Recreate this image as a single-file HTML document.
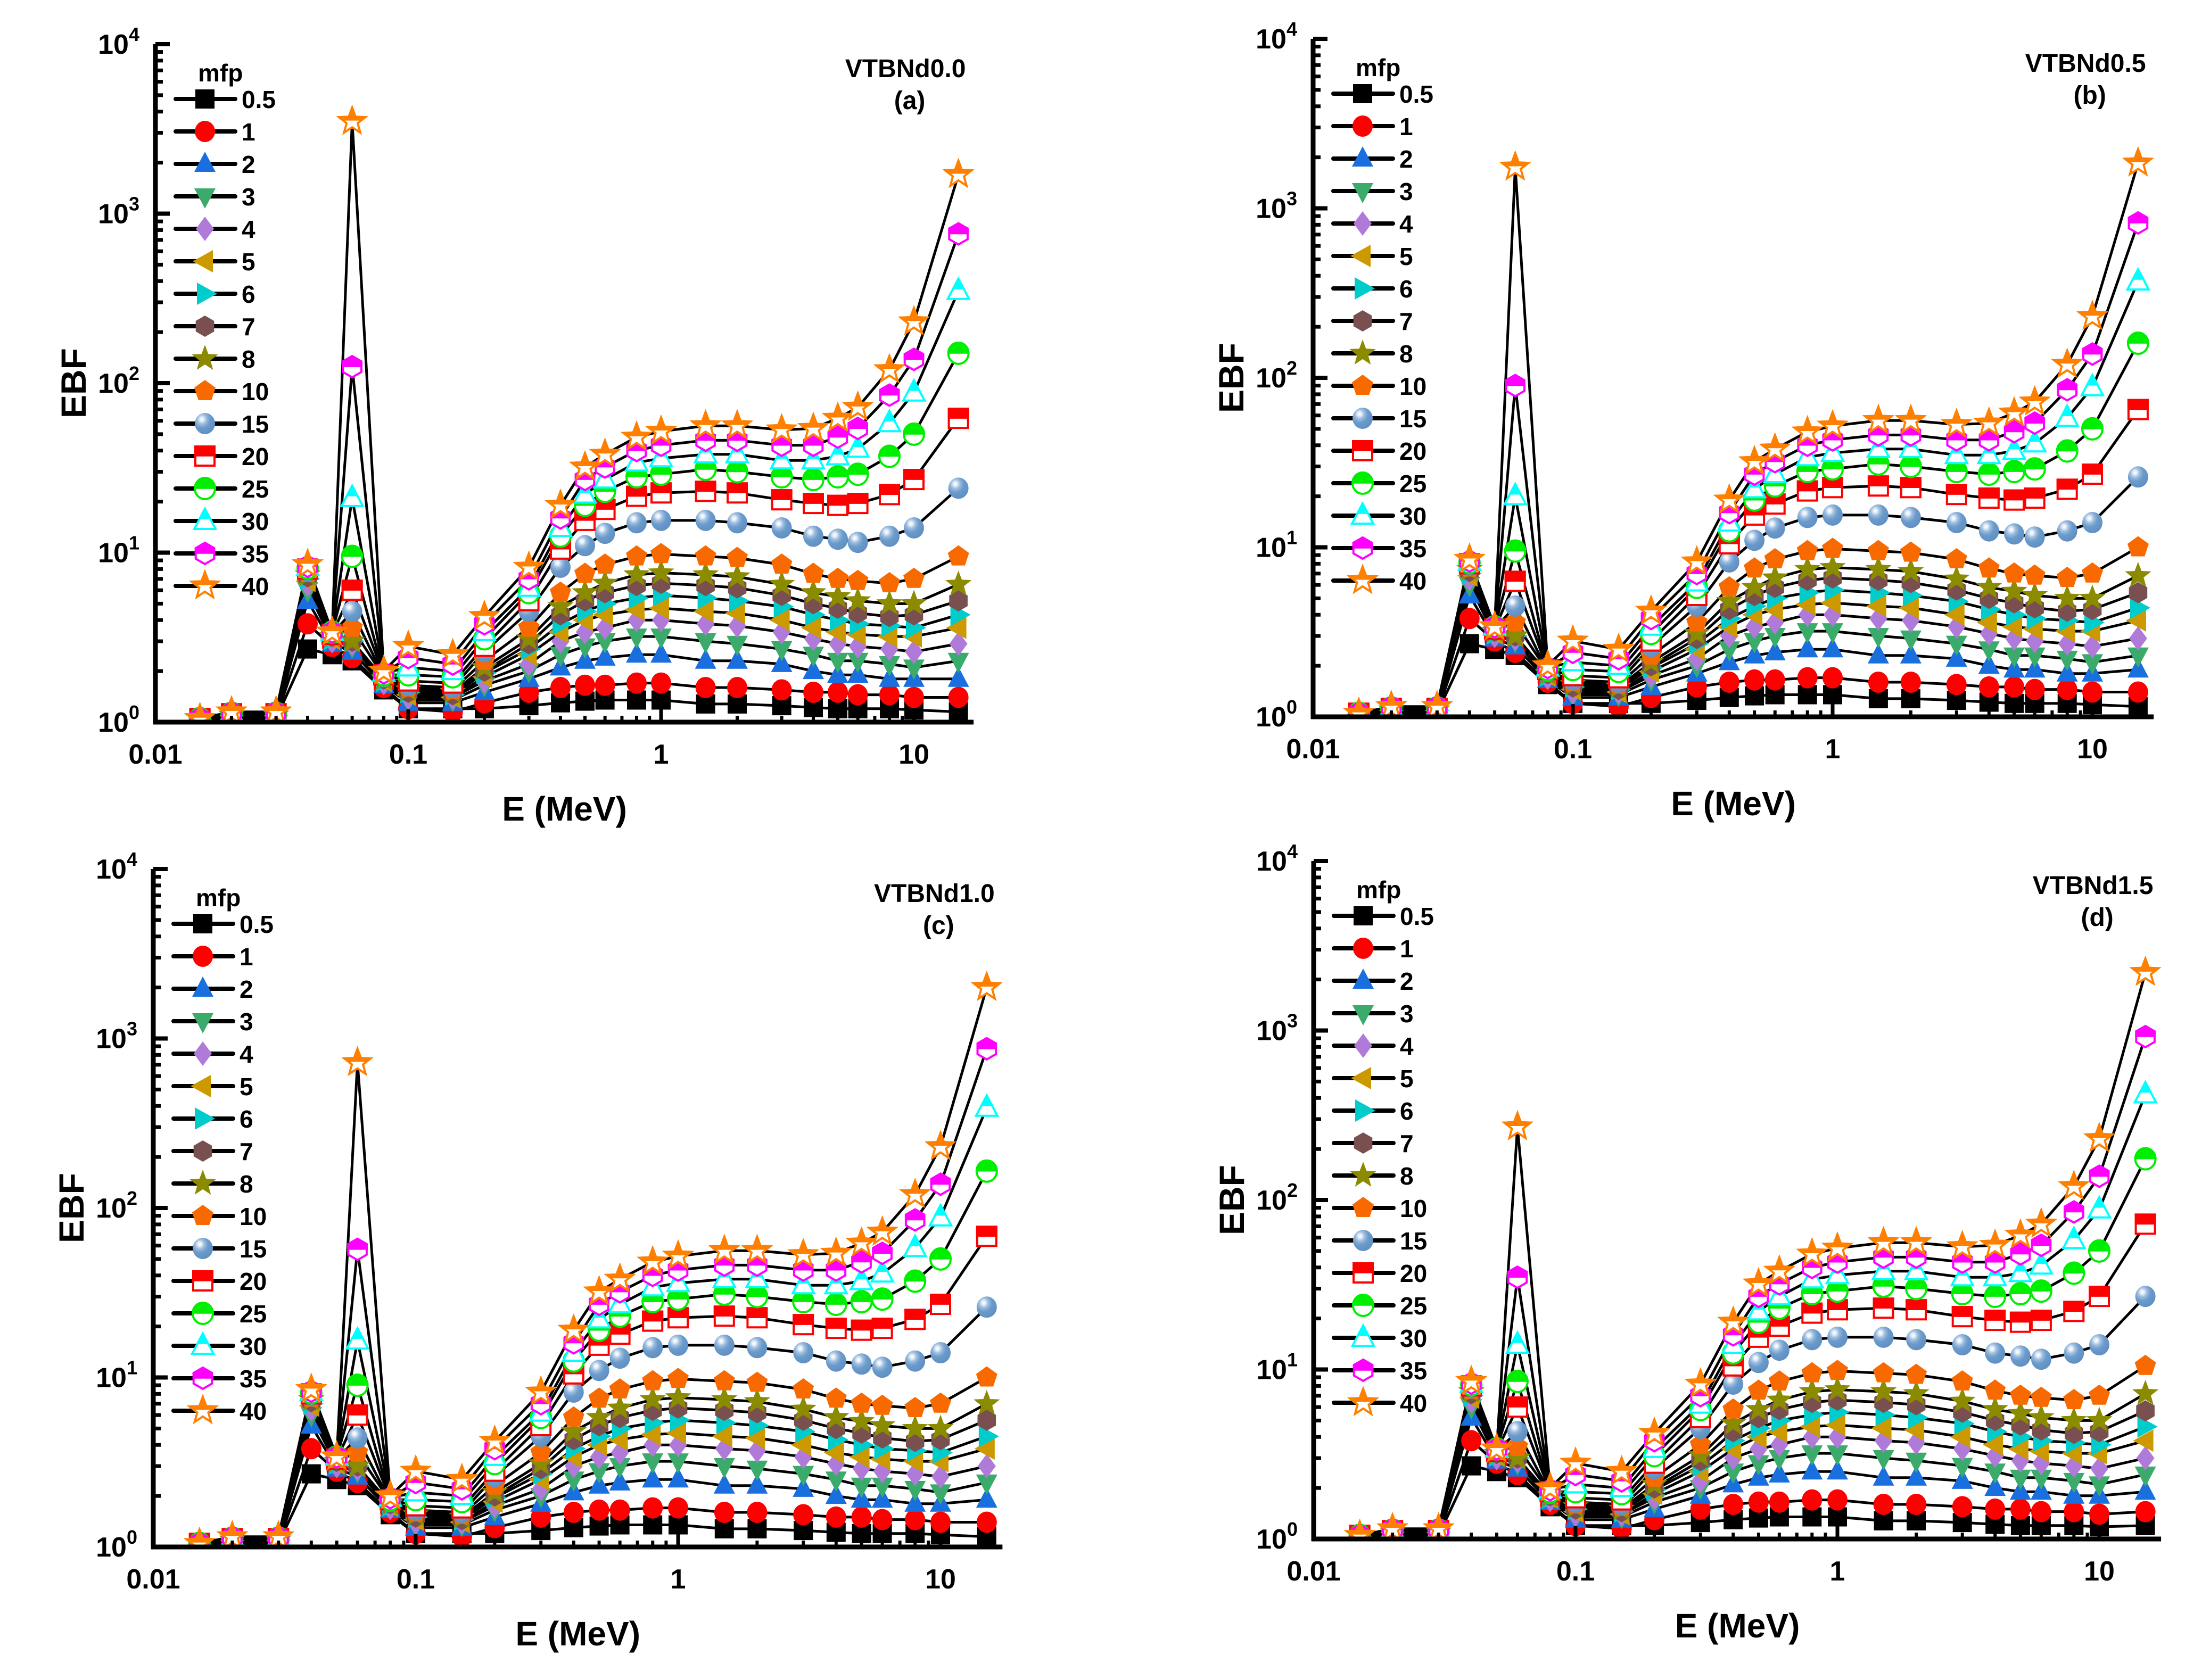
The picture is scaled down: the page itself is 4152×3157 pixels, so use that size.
<!DOCTYPE html>
<html><head><meta charset="utf-8"><style>
html,body{margin:0;padding:0;background:#fff;}
svg{display:block;font-family:"Liberation Sans",Arial,sans-serif;font-weight:bold;}
</style></head><body>
<svg id="fig" xmlns="http://www.w3.org/2000/svg" width="4152" height="3157" viewBox="0 0 4152 3157">
<defs>
<clipPath id="tophalf" clipPathUnits="objectBoundingBox"><rect x="-0.1" y="-0.1" width="1.2" height="0.62"/></clipPath>
<radialGradient id="sphere" cx="0.35" cy="0.3" r="0.75">
<stop offset="0" stop-color="#ffffff"/><stop offset="0.12" stop-color="#e8f0f8"/><stop offset="0.3" stop-color="#9dbde0"/><stop offset="0.55" stop-color="#6b9bcb"/><stop offset="1" stop-color="#5f8fc2"/></radialGradient>
</defs>
</svg>
<script>
// ---- data ----
const energies = [0.015,0.02,0.03,0.04,0.05,0.06,0.08,0.1,0.15,0.2,0.3,0.4,0.5,0.6,0.8,1,1.5,2,3,4,5,6,8,10,15];
const mfpLabels = ["0.5","1","2","3","4","5","6","7","8","10","15","20","25","30","35","40"];
const s0_5 = [1.02,1.05,1.05,2.7,2.5,2.3,1.55,1.2,1.2,1.2,1.25,1.3,1.33,1.35,1.35,1.35,1.28,1.28,1.25,1.22,1.2,1.2,1.2,1.18,1.15];
const s1 = [1.02,1.06,1.06,3.8,2.8,2.4,1.6,1.2,1.15,1.3,1.5,1.6,1.65,1.65,1.7,1.7,1.6,1.6,1.55,1.5,1.5,1.45,1.45,1.4,1.4];
const s2 = [1.03,1.07,1.07,5.2,2.9,2.6,1.65,1.3,1.3,1.5,1.8,2.1,2.3,2.4,2.5,2.5,2.3,2.3,2.2,2.0,1.9,1.9,1.8,1.8,1.8];
const s3 = [1.03,1.08,1.08,6.0,3.0,2.8,1.7,1.35,1.35,1.65,2.0,2.5,2.8,3.0,3.2,3.2,3.0,2.9,2.7,2.5,2.3,2.3,2.2,2.1,2.3];
const s4 = [1.03,1.08,1.08,6.5,3.0,2.9,1.7,1.4,1.4,1.75,2.2,3.0,3.4,3.6,4.0,4.0,3.8,3.7,3.4,3.1,2.9,2.8,2.7,2.6,2.9];
const s5 = [1.03,1.09,1.09,6.8,3.1,3.0,1.75,1.45,1.4,1.85,2.5,3.4,4.0,4.3,4.6,4.7,4.5,4.4,4.0,3.6,3.4,3.3,3.2,3.2,3.6];
const s6 = [1.04,1.09,1.09,7.0,3.1,3.0,1.75,1.5,1.45,1.95,2.7,3.8,4.5,5.0,5.4,5.6,5.4,5.2,4.8,4.3,4.0,3.8,3.7,3.6,4.3];
const s7 = [1.04,1.1,1.1,7.2,3.2,3.0,1.8,1.5,1.45,2.0,2.9,4.3,5.2,5.8,6.4,6.6,6.4,6.2,5.6,5.0,4.7,4.4,4.2,4.3,5.2];
const s8 = [1.04,1.1,1.1,7.4,3.2,3.0,1.8,1.55,1.5,2.1,3.1,4.8,5.8,6.6,7.4,7.6,7.4,7.2,6.5,5.8,5.5,5.2,5.0,5.0,6.5];
const s10 = [1.04,1.1,1.1,7.6,3.3,3.6,1.85,1.6,1.55,2.3,3.6,5.8,7.5,8.5,9.5,9.8,9.5,9.3,8.5,7.5,7.0,6.8,6.6,7.0,9.5];
const s15 = [1.05,1.12,1.12,7.8,3.3,4.5,1.85,1.65,1.6,2.6,4.5,8.2,11,13,15,15.5,15.5,15,14,12.5,12,11.5,12.5,14,24];
const s20 = [1.05,1.12,1.12,8.0,3.3,6,1.9,1.75,1.7,2.8,5.2,10.5,15.5,18,21.5,22.5,23,22.5,20.5,19.5,19,19.5,22,27,62];
const s25 = [1.05,1.13,1.13,8.1,3.4,9.5,1.9,1.9,1.85,3.1,5.8,12.5,19,23,28,29,31,30,28,27,28,29,37,50,150];
const s30 = [1.05,1.14,1.13,8.2,3.4,21,1.95,2.1,2.0,3.4,6.2,14,22,27,34,36,38,38,35,35,37,41,58,88,350];
const s35 = [1.05,1.14,1.14,8.3,3.4,125,1.95,2.4,2.2,3.8,7,16,27,32,40,43,46,46,43,43,48,54,85,138,760];
const s40 = [1.05,1.15,1.15,8.5,3.4,3500,2.0,2.8,2.5,4.2,8.2,19,32,38,48,52,56,56,53,54,62,72,120,230,1700];
const baseSeries = [s0_5,s1,s2,s3,s4,s5,s6,s7,s8,s10,s15,s20,s25,s30,s35,s40];
// per-panel values at E=0.06 MeV (peak) and at 15 MeV, one per mfp
const peakA = [2.3,2.4,2.6,2.8,2.9,3.0,3.0,3.0,3.0,3.6,4.5,6,9.5,21,125,3500];
const peakB = [2.3,2.4,2.6,2.8,2.9,3.0,3.0,3.0,3.0,3.6,4.5,6.3,9.5,20,90,1750];
const peakC = [2.3,2.4,2.6,2.8,2.9,3.0,3.0,3.0,3.0,3.6,4.4,6,9,16.5,57,720];
const peakD = [2.3,2.4,2.6,2.8,2.9,3.0,3.0,3.0,3.0,3.5,4.3,6,8.5,14,35,270];
const tailA = [1.15,1.4,1.8,2.3,2.9,3.6,4.3,5.2,6.5,9.5,24,62,150,350,760,1700];
const tailB = [1.15,1.4,1.9,2.3,2.9,3.7,4.4,5.4,6.8,10,26,65,160,370,820,1850];
const tailC = [1.15,1.4,1.9,2.4,3.0,3.8,4.5,5.6,7.0,10,26,68,165,390,870,2000];
const tailD = [1.2,1.45,1.9,2.4,3.0,3.8,4.6,5.7,7.2,10.5,27,72,175,420,920,2200];
const yTicks = [0,1,2,3,4];
const xTickVals = [0.01,0.1,1,10];
const xTickLabels = ["0.01","0.1","1","10"];

const panels = [
 {id:'a',x0:292,dec:475,y0:83,y1:1357,title:'VTBNd0.0',lab:'(a)',peak:peakA,tail:tailA},
 {id:'b',x0:2467,dec:488,y0:73,y1:1347,title:'VTBNd0.5',lab:'(b)',peak:peakB,tail:tailB},
 {id:'c',x0:288,dec:493,y0:1633,y1:2907,title:'VTBNd1.0',lab:'(c)',peak:peakC,tail:tailC},
 {id:'d',x0:2468,dec:492,y0:1618,y1:2892,title:'VTBNd1.5',lab:'(d)',peak:peakD,tail:tailD}
];
const styles = [
 {shape:'square',fill:'#000000'},{shape:'circle',fill:'#ff0000'},{shape:'tri-up',fill:'#1a6fdf'},
 {shape:'tri-down',fill:'#3aab6a'},{shape:'diamond',fill:'#b07ad9'},{shape:'tri-left',fill:'#cc9900'},
 {shape:'tri-right',fill:'#00cccc'},{shape:'hexagon',fill:'#7a4f4f'},{shape:'star',fill:'#8b8b00'},
 {shape:'pentagon',fill:'#f86a00'},{shape:'sphere',fill:'#6699cc'},{shape:'square',fill:'#ff0000',half:true},
 {shape:'circle',fill:'#00ee00',half:true},{shape:'tri-up',fill:'#00ffff',half:true},
 {shape:'hexagon',fill:'#ff00ff',half:true},{shape:'star',fill:'#ff8000',half:true}
];
const NS='http://www.w3.org/2000/svg';
const svg=document.getElementById('fig');
function mk(tag,attrs,parent){const e=document.createElementNS(NS,tag);for(const k in attrs)e.setAttribute(k,attrs[k]);(parent||svg).appendChild(e);return e;}
function poly(n,r,rot){let p=[];for(let i=0;i<n;i++){const a=rot+i*2*Math.PI/n;p.push((r*Math.cos(a)).toFixed(1)+','+(r*Math.sin(a)).toFixed(1));}return p.join(' ');}
function starPts(r){let p=[];for(let i=0;i<10;i++){const rr=i%2?r*0.42:r;const a=-Math.PI/2+i*Math.PI/5;p.push((rr*Math.cos(a)).toFixed(1)+','+(rr*Math.sin(a)).toFixed(1));}return p.join(' ');}
function shapeEl(shape,g,attrs){
 const R=20;
 let e;
 switch(shape){
  case 'square': e=mk('rect',{x:-18,y:-18,width:36,height:36},g);break;
  case 'circle': e=mk('ellipse',{cx:0,cy:0,rx:19,ry:20},g);break;
  case 'sphere': e=mk('ellipse',{cx:0,cy:0,rx:19,ry:20},g);break;
  case 'tri-up': e=mk('polygon',{points:'0,-23 20,15 -20,15'},g);break;
  case 'tri-down': e=mk('polygon',{points:'0,23 20,-15 -20,-15'},g);break;
  case 'tri-left': e=mk('polygon',{points:'-23,0 15,-21 15,21'},g);break;
  case 'tri-right': e=mk('polygon',{points:'23,0 -15,-21 -15,21'},g);break;
  case 'diamond': e=mk('polygon',{points:'0,-23 17,0 0,23 -17,0'},g);break;
  case 'hexagon': e=mk('polygon',{points:poly(6,R,-Math.PI/2)},g);break;
  case 'pentagon': e=mk('polygon',{points:poly(5,R+1,-Math.PI/2)},g);break;
  case 'star': e=mk('polygon',{points:starPts(26)},g);break;
 }
 for(const k in attrs)e.setAttribute(k,attrs[k]);
 return e;
}
function marker(parent,x,y,st){
 const g=mk('g',{transform:`translate(${x.toFixed(1)},${y.toFixed(1)})`},parent);
 if(st.half){
  shapeEl(st.shape,g,{fill:'#ffffff',stroke:st.fill,'stroke-width':4});
  shapeEl(st.shape,g,{fill:st.fill,stroke:st.fill,'stroke-width':4,'clip-path':'url(#tophalf)'});
 } else if(st.shape==='sphere'){
  shapeEl(st.shape,g,{fill:'url(#sphere)'});
 } else {
  shapeEl(st.shape,g,{fill:st.fill});
 }
 return g;
}
panels.forEach(P=>{
 const x1=P.x0+3.236*P.dec;
 const X=v=>P.x0+(Math.log10(v)+2)*P.dec;
 const Y=v=>P.y1-Math.log10(v)*(P.y1-P.y0)/4;
 const pg=mk('g',{});
 
 
 const clip=mk('clipPath',{id:'clip'+P.id},pg);
 mk('rect',{x:P.x0,y:P.y0-80,width:x1-P.x0+40,height:P.y1-P.y0+80},clip);
 const plot=mk('g',{'clip-path':`url(#clip${P.id})`},pg);
 
 
 const seriesData=baseSeries.map((s,i)=>{const a=s.slice();a[5]=P.peak[i];a[24]=P.tail[i];return a;});
 seriesData.forEach((s,i)=>{
  const pts=s.map((v,j)=>X(energies[j]).toFixed(1)+','+Y(v).toFixed(1)).join(' ');
  const l=mk('polyline',{points:pts,fill:'none',stroke:'#000','stroke-width':5,'stroke-linejoin':'round'},plot);
  
  
 });
 seriesData.forEach((s,i)=>{
  const sg=mk('g',{},plot);
  
  
  s.forEach((v,j)=>{marker(sg,X(energies[j]),Y(v),styles[i]);});
 });
 const ax=mk('g',{},pg);
 
 
 mk('line',{x1:P.x0,y1:P.y0,x2:P.x0,y2:P.y1+4,stroke:'#000','stroke-width':9},ax);
 mk('line',{x1:P.x0-4,y1:P.y1,x2:x1,y2:P.y1,stroke:'#000','stroke-width':9},ax);
 yTicks.forEach(k=>{
  const y=P.y1-k*(P.y1-P.y0)/4;
  mk('line',{x1:P.x0,y1:y,x2:P.x0+27,y2:y,stroke:'#000','stroke-width':8},ax);
  const t=mk('text',{x:P.x0-30,y:y+18,'text-anchor':'end','font-size':52},ax);
  
  
  t.innerHTML='10<tspan dy="-24" font-size="36">'+k+'</tspan>';
  if(k<4)for(let m=2;m<10;m++){const ym=y-Math.log10(m)*(P.y1-P.y0)/4;mk('line',{x1:P.x0,y1:ym,x2:P.x0+14,y2:ym,stroke:'#000','stroke-width':7},ax);}
 });
 xTickVals.forEach((v,k)=>{
  const x=X(v);
  mk('line',{x1:x,y1:P.y1,x2:x,y2:P.y1-24,stroke:'#000','stroke-width':7},ax);
  const t=mk('text',{x:x,y:P.y1+78,'text-anchor':'middle','font-size':52},ax);
  
  
  t.textContent=xTickLabels[k];
  for(let m=2;m<10;m++){const xm=X(v*m);if(xm<x1)mk('line',{x1:xm,y1:P.y1,x2:xm,y2:P.y1-12,stroke:'#000','stroke-width':6},ax);}
 });
 const xt=mk('text',{x:(P.x0+x1)/2,y:P.y1+185,'text-anchor':'middle','font-size':64},pg);
 
 
 xt.textContent='E (MeV)';
 const cy=(P.y0+P.y1)/2;
 const yx=P.x0-155;
 const yt=mk('text',{x:yx,y:cy,'text-anchor':'middle','font-size':66,transform:`rotate(-90 ${yx} ${cy})`,dy:24},pg);
 
 
 yt.textContent='EBF';
 const tt=mk('text',{x:x1-128,y:P.y0+62,'text-anchor':'middle','font-size':48},pg);
 
 
 tt.textContent=P.title;
 const tl=mk('text',{x:x1-120,y:P.y0+122,'text-anchor':'middle','font-size':48},pg);
 
 
 tl.textContent=P.lab;
 const lg=mk('g',{},pg);
 
 
 const lt=mk('text',{x:P.x0+80,y:P.y0+70,'font-size':46},lg);
 
 
 lt.textContent='mfp';
 mfpLabels.forEach((lab,i)=>{
  const y=P.y0+103+i*61;
  const eg=mk('g',{},lg);
  
  
  mk('line',{x1:P.x0+38,y1:y,x2:P.x0+150,y2:y,stroke:'#000','stroke-width':8,'stroke-linecap':'round'},eg);
  marker(eg,P.x0+93,y,styles[i]);
  const t=mk('text',{x:P.x0+162,y:y+17,'font-size':46},eg);
  t.textContent=lab;
 });
});
</script>
</body></html>
